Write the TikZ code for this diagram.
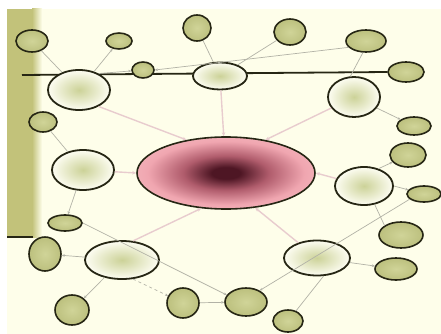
\documentclass[tikz,border=0pt]{standalone}
\usetikzlibrary{shapes.geometric,arrows.meta}
\definecolor{bgcol}{RGB}{254,254,234}
\definecolor{olivefill}{RGB}{188,192,126}
\definecolor{olivelight}{RGB}{208,212,152}
\definecolor{rim}{RGB}{38,38,20}
\definecolor{conn}{RGB}{178,178,166}
\definecolor{pinkconn}{RGB}{232,204,206}
\definecolor{barcol}{RGB}{194,194,122}
\definecolor{greencore}{RGB}{204,210,152}
\definecolor{whiteedge}{RGB}{253,253,242}
\definecolor{maroon}{RGB}{78,22,36}
\definecolor{rosemid}{RGB}{176,92,108}
\definecolor{pinkmain}{RGB}{240,166,176}
\definecolor{pinkedge}{RGB}{248,200,204}
\pgfdeclareradialshading{centreshade}{\pgfpoint{0bp}{0bp}}{color(0bp)=(maroon); color(4bp)=(maroon); color(12bp)=(rosemid); color(22bp)=(pinkmain); color(36bp)=(pinkedge); color(50bp)=(pinkedge)}
\tikzset{
  bigell/.style={ellipse, draw=rim, line width=1.8pt, inner sep=0pt, inner color=greencore, outer color=whiteedge},
  smallell/.style={ellipse, draw=rim, line width=1.6pt, inner sep=0pt, inner color=olivelight, outer color=olivefill},
  centreell/.style={ellipse, draw=rim, line width=1.6pt, inner sep=0pt, shading=centreshade},
  link/.style={draw=conn, line width=0.7pt},
  alink/.style={link, -{Stealth[length=3pt,width=2.6pt]}},
  plink/.style={draw=pinkconn, line width=1.4pt, -{Stealth[length=4pt,width=3.5pt]}}
}
\begin{document}
\begin{tikzpicture}[x=1pt,y=-1pt]
\useasboundingbox (0,0) rectangle (441,334);
\fill[white] (0,0) rectangle (441,334);
\fill[bgcol] (7,9) rectangle (441,334);
\fill[barcol] (7,9) rectangle (32,237);
\shade[left color=barcol, right color=bgcol] (32,9) rectangle (42,237);
\coordinate (barL) at (7,237);
\coordinate (barR) at (33,237);
\draw[rim, line width=1.5pt] (barL) -- (barR);
% nodes
\node[smallell, minimum width=40pt, minimum height=22pt] (s6) at (366,41) {};
\node[smallell, minimum width=36pt, minimum height=20pt] (s7) at (406,72) {};
\coordinate (hl) at (22,75);
\draw[rim, line width=1.8pt] (hl) -- (s7.west);
\node[bigell, minimum width=62pt, minimum height=40pt] (A) at (79,90) {};
\node[bigell, minimum width=54pt, minimum height=27pt] (B) at (220,76) {};
\node[bigell, minimum width=52pt, minimum height=40pt] (C) at (354,97) {};
\node[bigell, minimum width=62pt, minimum height=40pt] (D) at (83,170) {};
\node[bigell, minimum width=74pt, minimum height=38pt] (E) at (122,260) {};
\node[bigell, minimum width=66pt, minimum height=35pt] (F) at (317,258) {};
\node[bigell, minimum width=58pt, minimum height=38pt] (G) at (364,186) {};
\node[centreell, minimum width=178pt, minimum height=72pt] (Z) at (226,173) {};
\node[smallell, minimum width=32pt, minimum height=22pt] (s1) at (32,41) {};
\node[smallell, minimum width=26pt, minimum height=16pt] (s2) at (119,41) {};
\node[smallell, minimum width=22pt, minimum height=16pt] (s3) at (143,70) {};
\node[smallell, minimum width=28pt, minimum height=26pt] (s4) at (197,28) {};
\node[smallell, minimum width=32pt, minimum height=26pt] (s5) at (290,32) {};
\node[smallell, minimum width=34pt, minimum height=18pt] (s8) at (414,126) {};
\node[smallell, minimum width=36pt, minimum height=24pt] (s9) at (408,155) {};
\node[smallell, minimum width=34pt, minimum height=16pt] (s10) at (424,194) {};
\node[smallell, minimum width=44pt, minimum height=26pt] (s11) at (401,235) {};
\node[smallell, minimum width=42pt, minimum height=22pt] (s12) at (396,269) {};
\node[smallell, minimum width=30pt, minimum height=22pt] (s13) at (288,321) {};
\node[smallell, minimum width=42pt, minimum height=28pt] (s14) at (246,302) {};
\node[smallell, minimum width=32pt, minimum height=30pt] (s15) at (183,303) {};
\node[smallell, minimum width=34pt, minimum height=30pt] (s16) at (72,310) {};
\node[smallell, minimum width=32pt, minimum height=34pt] (s17) at (45,254) {};
\node[smallell, minimum width=34pt, minimum height=16pt] (s18) at (65,223) {};
\node[smallell, minimum width=28pt, minimum height=20pt] (s19) at (43,122) {};
% connectors
\draw[link] (s1) -- (A);
\draw[alink] (A) -- (s2);
\draw[alink] (A.40) -- (s3);
\draw[alink] (s6.200) -- (s3.east);
\draw[link] (s4) -- (B);
\draw[link] (B) -- (s5);
\draw[link] (s6.255) -- (C.100);
\draw[alink] (C) -- (s8);
\draw[alink] (G.50) -- (s9);
\draw[alink] (G.east) -- (s10);
\draw[link] (G.300) -- (s11.150);
\draw[alink] (s10.200) -- (s14.40);
\draw[alink] (F) -- (s12);
\draw[link] (F.290) -- (s13);
\draw[link] (s19) -- (D);
\draw[alink] (D) -- (s18);
\draw[alink] (s18.east) -- (s14.160);
\draw[alink] (E) -- (s17);
\draw[alink] (E) -- (s16);
\draw[alink, dashed] (E.300) -- (s15);
\draw[alink] (s15) -- (s14);
\draw[plink] (A.320) -- (Z.140);
\draw[plink] (B) -- (Z);
\draw[plink] (C) -- (Z.40);
\draw[plink] (G) -- (Z.east);
\draw[plink] (F) -- (Z.310);
\draw[plink] (E.60) -- (Z.235);
\draw[plink] (D) -- (Z.west);
\end{tikzpicture}
\end{document}
